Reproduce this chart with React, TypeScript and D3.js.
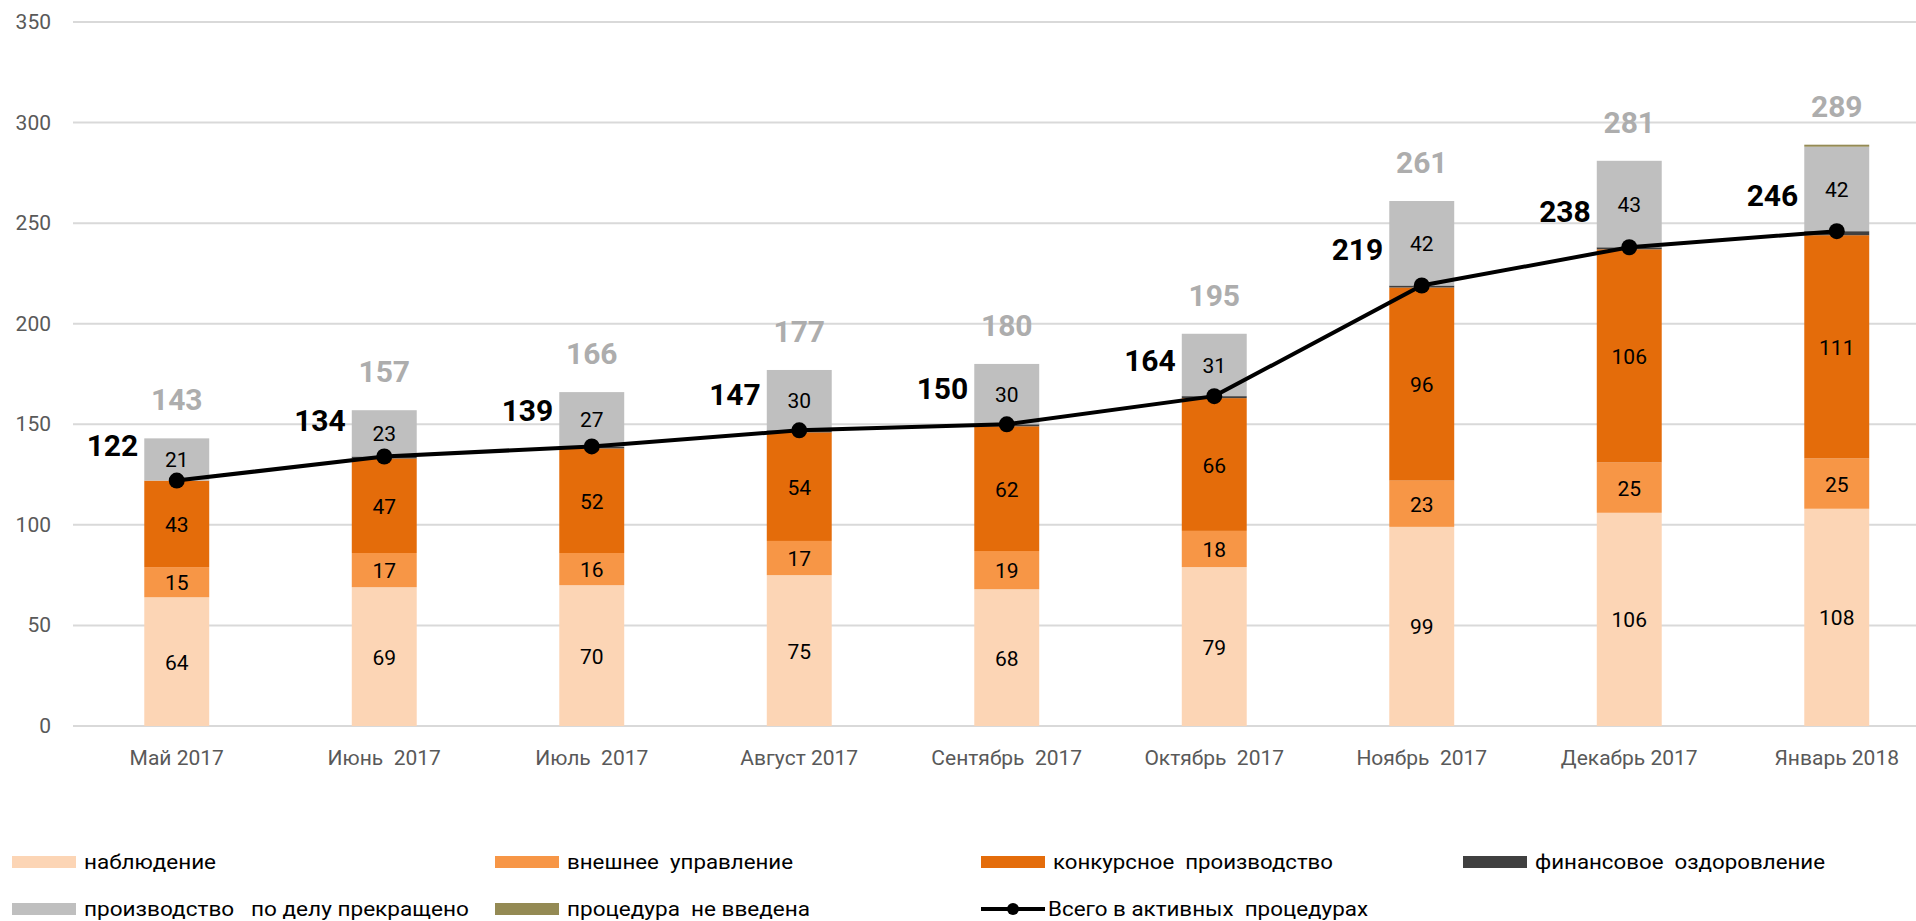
import React from "react";
import * as d3 from "d3";

const categories = ["Май 2017", "Июнь  2017", "Июль  2017", "Август 2017", "Сентябрь  2017", "Октябрь  2017", "Ноябрь  2017", "Декабрь 2017", "Январь 2018"];
const observation = [64, 69, 70, 75, 68, 79, 99, 106, 108];
const externalMgmt = [15, 17, 16, 17, 19, 18, 23, 25, 25];
const bankruptcy = [43, 47, 52, 54, 62, 66, 96, 106, 111];
const recovery = [0, 1, 1, 1, 1, 1, 1, 1, 2];
const terminated = [21, 23, 27, 30, 30, 31, 42, 43, 42];
const notIntroduced = [0, 0, 0, 0, 0, 0, 0, 0, 1];
const activeTotal = [122, 134, 139, 147, 150, 164, 219, 238, 246];
const grandTotal = [143, 157, 166, 177, 180, 195, 261, 281, 289];
const yTicks = [0, 50, 100, 150, 200, 250, 300, 350];

const seriesNames = ["наблюдение", "внешнее  управление", "конкурсное  производство", "финансовое  оздоровление", "производство   по делу прекращено", "процедура  не введена"];
const seriesKeys = ["obs", "ext", "bank", "rec", "term", "not"];
const seriesColors = ["#FCD5B5", "#F79646", "#E46C0A", "#404040", "#BFBFBF", "#948A54"];
const labelled = [true, true, true, false, true, false];
const lineName = "Всего в активных  процедурах";

const FONT = "Roboto, 'Noto Sans', sans-serif";

export default function App() {
  const W = 1916, H = 921;
  const x = d3.scaleBand<string>().domain(categories).range([73, 1940.5]).paddingInner(0.687).paddingOuter(0.3435);
  const y = d3.scaleLinear().domain([0, 350]).range([726, 22]);
  const rows = categories.map((c, i) => ({
    cat: c,
    obs: observation[i], ext: externalMgmt[i], bank: bankruptcy[i], rec: recovery[i], term: terminated[i], not: notIntroduced[i],
  }));
  const stack = d3.stack<any>().keys(seriesKeys)(rows);
  const cx = (c: string) => (x(c) as number) + x.bandwidth() / 2;
  const line = d3.line<number>().x((_, i) => cx(categories[i])).y((v) => y(v));

  const legendCols = [12, 495, 981, 1463];
  const legendRows = [862, 909];
  const legendWidths = [132, 226, 280, 290, 385, 243];
  const legendItems = seriesNames.map((n, i) => ({ name: n, color: seriesColors[i], w: legendWidths[i], col: i < 4 ? i : i - 4, row: i < 4 ? 0 : 1 }));

  return (
    <svg width={W} height={H} style={{ position: "absolute", left: 0, top: 0, background: "#fff" }} fontFamily={FONT}>
      {yTicks.map((t) => (
        <g key={t}>
          <line x1={73} x2={1916} y1={y(t)} y2={y(t)} stroke="#D9D9D9" strokeWidth={2} />
          <text x={51} y={y(t)} textAnchor="end" dominantBaseline="central" fontSize={21} fill="#595959">{t}</text>
        </g>
      ))}
      {stack.map((s, si) => (
        <g key={seriesKeys[si]}>
          {s.map((d, i) => {
            const h = y(d[0]) - y(d[1]);
            if (h <= 0) return null;
            return <rect key={i} x={x(categories[i])} width={x.bandwidth()} y={y(d[1])} height={h} fill={seriesColors[si]} />;
          })}
        </g>
      ))}
      {stack.map((s, si) => labelled[si] ? (
        <g key={"l" + si}>
          {s.map((d, i) => (
            <text key={i} x={cx(categories[i])} y={(y(d[0]) + y(d[1])) / 2 + 1} textAnchor="middle" dominantBaseline="central" fontSize={21} fill="#000">{d[1] - d[0]}</text>
          ))}
        </g>
      ) : null)}
      <path d={line(activeTotal) || ""} fill="none" stroke="#000" strokeWidth={4} />
      {activeTotal.map((v, i) => (
        <circle key={i} cx={cx(categories[i])} cy={y(v)} r={8} fill="#000" />
      ))}
      {activeTotal.map((v, i) => (
        <text key={"a" + i} x={(x(categories[i]) as number) - 6} y={y(v) - 25} textAnchor="end" fontSize={30} fontWeight="bold" fill="#000">{v}</text>
      ))}
      {grandTotal.map((v, i) => (
        <text key={"t" + i} x={cx(categories[i])} y={y(v) - 28} textAnchor="middle" fontSize={30} fontWeight="bold" fill="#ADADAD">{v}</text>
      ))}
      {categories.map((c) => (
        <text key={c} x={cx(c)} y={758} textAnchor="middle" dominantBaseline="central" fontSize={21} fill="#595959" style={{ whiteSpace: "pre" }}>{c}</text>
      ))}
      {legendItems.map((it, i) => (
        <g key={"lg" + i}>
          <rect x={legendCols[it.col]} y={legendRows[it.row] - 6} width={64} height={12} fill={it.color} />
          <text x={legendCols[it.col] + 72} y={legendRows[it.row]} dominantBaseline="central" fontSize={20} fill="#000" textLength={it.w} lengthAdjust="spacingAndGlyphs" style={{ whiteSpace: "pre" }}>{it.name}</text>
        </g>
      ))}
      <g>
        <line x1={legendCols[2]} x2={legendCols[2] + 64} y1={legendRows[1]} y2={legendRows[1]} stroke="#000" strokeWidth={4} />
        <circle cx={legendCols[2] + 32} cy={legendRows[1]} r={6} fill="#000" />
        <text x={legendCols[2] + 67} y={legendRows[1]} dominantBaseline="central" fontSize={20} fill="#000" textLength={320} lengthAdjust="spacingAndGlyphs" style={{ whiteSpace: "pre" }}>{lineName}</text>
      </g>
    </svg>
  );
}
